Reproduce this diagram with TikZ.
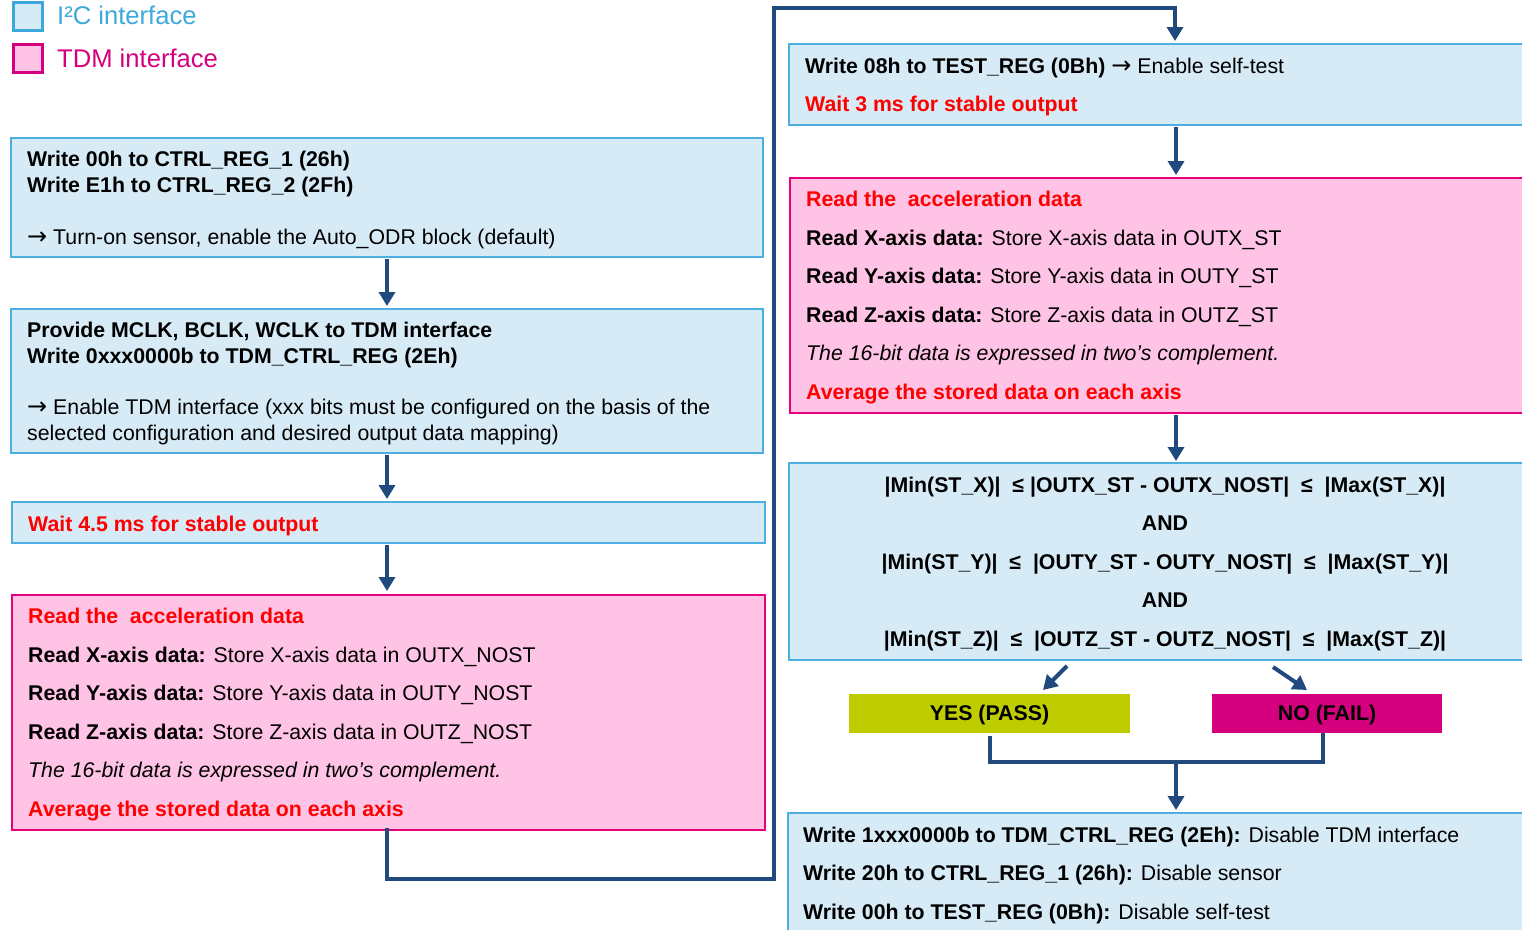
\documentclass[tikz,border=0pt]{standalone}
\usepackage{fontspec}
\setmainfont{Liberation Sans}
\newfontfamily\arrowfont{DejaVu Sans}
\newcommand\rarr{{\arrowfont\fontsize{24}{25}\selectfont →}}
\usetikzlibrary{arrows.meta}
\definecolor{i2cfill}{HTML}{D7EBF7}
\definecolor{i2cdraw}{HTML}{4DAEE0}
\definecolor{tdmfill}{HTML}{FFC4E5}
\definecolor{tdmdraw}{HTML}{E6007E}
\definecolor{connc}{HTML}{204A7E}
\definecolor{redtxt}{HTML}{FF0000}
\definecolor{yesfill}{HTML}{BFCD00}
\definecolor{nofill}{HTML}{D5007D}
\definecolor{legblue}{HTML}{3DA8DC}
\definecolor{legpink}{HTML}{D5007F}
\tikzset{
  i2cbox/.style={draw=i2cdraw, fill=i2cfill, line width=1.6pt, anchor=north west, inner sep=0pt, outer sep=0pt},
  tdmbox/.style={draw=tdmdraw, fill=tdmfill, line width=1.6pt, anchor=north west, inner sep=0pt, outer sep=0pt},
  resbox/.style={anchor=north west, inner sep=0pt, outer sep=0pt, text depth=2pt, font=\fontsize{21.3}{25}\selectfont\bfseries},
  legbox/.style={line width=3pt, anchor=north west, inner sep=0pt, outer sep=0pt, minimum width=29, minimum height=28},
  conn/.style={draw=connc, line width=4pt},
  arr/.style={conn, -{Triangle[length=14pt,width=16pt]}},
  txt/.style={anchor=base west, inner sep=0pt, font=\fontsize{21.3}{25}\selectfont},
  ctxt/.style={anchor=base, inner sep=0pt, font=\fontsize{21.3}{25}\selectfont\bfseries},
  legtxt/.style={anchor=base west, inner sep=0pt, font=\fontsize{25.6}{30}\selectfont},
  rtxt/.style={txt, text=redtxt, font=\fontsize{21.3}{25}\selectfont\bfseries}
}
\begin{document}
\begin{tikzpicture}[x=1pt,y=-1pt]
\useasboundingbox (0,0) rectangle (1522,929);
\clip (0,0) rectangle (1522,929);

% legend
\node[legbox, draw=legblue, fill=i2cfill] (lg1) at (13.5,2) {};
\node[legtxt, text=legblue] (lt1) at (57,24) {I²C interface};
\node[legbox, draw=legpink, fill=tdmfill] (lg2) at (13.5,44.5) {};
\node[legtxt, text=legpink] (lt2) at (57,67) {TDM interface};

% left column boxes
\node[i2cbox, minimum width=752, minimum height=119] (b1) at (11,138) {};
\node[txt] (b1a) at (27,166) {\bfseries Write 00h to CTRL\_REG\_1 (26h)};
\node[txt] (b1b) at (27,192) {\bfseries Write E1h to CTRL\_REG\_2 (2Fh)};
\node[txt] (b1c) at (27,244) {\rarr{} Turn-on sensor, enable the Auto\_ODR block (default)};

\node[i2cbox, minimum width=752, minimum height=144] (b2) at (11,309) {};
\node[txt] (b2a) at (27,337) {\bfseries Provide MCLK, BCLK, WCLK to TDM interface};
\node[txt] (b2b) at (27,363) {\bfseries Write 0xxx0000b to TDM\_CTRL\_REG (2Eh)};
\node[txt] (b2c) at (27,414) {\rarr{} Enable TDM interface (xxx bits must be configured on the basis of the};
\node[txt] (b2d) at (27,440) {selected configuration and desired output data mapping)};

\node[i2cbox, minimum width=753, minimum height=41] (b3) at (12,502) {};
\node[rtxt] (b3a) at (28,531) {Wait 4.5 ms for stable output};

\node[tdmbox, minimum width=753, minimum height=235] (b4) at (12,595) {};
\node[rtxt] (b4a) at (28,623) {Read the\ \ acceleration data};
\node[txt] (b4b) at (28,662) {\textbf{Read X-axis data:} Store X-axis data in OUTX\_NOST};
\node[txt] (b4c) at (28,700) {\textbf{Read Y-axis data:} Store Y-axis data in OUTY\_NOST};
\node[txt] (b4d) at (28,739) {\textbf{Read Z-axis data:} Store Z-axis data in OUTZ\_NOST};
\node[txt] (b4e) at (28,777) {\itshape The 16-bit data is expressed in two’s complement.};
\node[rtxt] (b4f) at (28,816) {Average the stored data on each axis};

% right column boxes
\node[i2cbox, minimum width=760, minimum height=81] (b5) at (789,44) {};
\node[txt] (b5a) at (805,73) {\textbf{Write 08h to TEST\_REG (0Bh)} \rarr{} Enable self-test};
\node[rtxt] (b5b) at (805,111) {Wait 3 ms for stable output};

\node[tdmbox, minimum width=760, minimum height=235] (b6) at (790,178) {};
\node[rtxt] (b6a) at (806,206) {Read the\ \ acceleration data};
\node[txt] (b6b) at (806,245) {\textbf{Read X-axis data:} Store X-axis data in OUTX\_ST};
\node[txt] (b6c) at (806,283) {\textbf{Read Y-axis data:} Store Y-axis data in OUTY\_ST};
\node[txt] (b6d) at (806,322) {\textbf{Read Z-axis data:} Store Z-axis data in OUTZ\_ST};
\node[txt] (b6e) at (806,360) {\itshape The 16-bit data is expressed in two’s complement.};
\node[rtxt] (b6f) at (806,399) {Average the stored data on each axis};

\node[i2cbox, minimum width=760, minimum height=197] (b7) at (789,463) {};
\node[ctxt] (b7a) at (1165,492) {|Min(ST\_X)|\ \ ≤ |OUTX\_ST - OUTX\_NOST|\ \ ≤\ \ |Max(ST\_X)|};
\node[ctxt] (b7b) at (1165,530) {AND};
\node[ctxt] (b7c) at (1165,569) {|Min(ST\_Y)|\ \ ≤\ \ |OUTY\_ST - OUTY\_NOST|\ \ ≤\ \ |Max(ST\_Y)|};
\node[ctxt] (b7d) at (1165,607) {AND};
\node[ctxt] (b7e) at (1165,646) {|Min(ST\_Z)|\ \ ≤\ \ |OUTZ\_ST - OUTZ\_NOST|\ \ ≤\ \ |Max(ST\_Z)|};

\node[resbox, fill=yesfill, minimum width=281, minimum height=39] (yes) at (849,694) {YES (PASS)};
\node[resbox, fill=nofill, minimum width=230, minimum height=39] (no) at (1212,694) {NO (FAIL)};

\node[i2cbox, minimum width=760, minimum height=140] (b8) at (788,813) {};
\node[txt] (b8a) at (803,842) {\textbf{Write 1xxx0000b to TDM\_CTRL\_REG (2Eh):} Disable TDM interface};
\node[txt] (b8b) at (803,880) {\textbf{Write 20h to CTRL\_REG\_1 (26h):} Disable sensor};
\node[txt] (b8c) at (803,919) {\textbf{Write 00h to TEST\_REG (0Bh):} Disable self-test};

% connection points
\coordinate (t5) at (1175,44);
\coordinate (s5) at (1176,125);
\coordinate (t6) at (1176,178);
\coordinate (s6) at (1176,413);
\coordinate (t7) at (1176,463);
\coordinate (d1s) at (1067,666);
\coordinate (d1e) at (1043,690);
\coordinate (d2s) at (1273,667);
\coordinate (d2e) at (1307,690);
\coordinate (mj) at (1176,762);
\coordinate (t8) at (1176,813);
\coordinate (nos) at (1323,733);

% connectors
\draw[arr, shorten <=2pt, shorten >=3pt] (b1.south) -- (b2.north);
\draw[arr, shorten <=2pt, shorten >=3pt] (b2.south) -- (b2.south |- b3.north);
\draw[arr, shorten <=2pt, shorten >=4pt] (b3.south -| b2.south) -- (b2.south |- b4.north);
\draw[conn, line cap=rect, -{Triangle[length=14pt,width=16pt]}, shorten >=3pt] (b4.south -| b2.south) |- (774,879) -- (774,8) -| (t5);
\draw[arr, shorten <=2pt, shorten >=3pt] (s5) -- (t6);
\draw[arr, shorten <=2pt, shorten >=2pt] (s6) -- (t7);
\draw[arr] (d1s) -- (d1e);
\draw[arr] (d2s) -- (d2e);
\draw[conn, shorten <=3pt] (yes.south) |- (mj) -| (nos);
\draw[arr, shorten >=3pt] (mj) -- (t8);
\end{tikzpicture}
\end{document}
